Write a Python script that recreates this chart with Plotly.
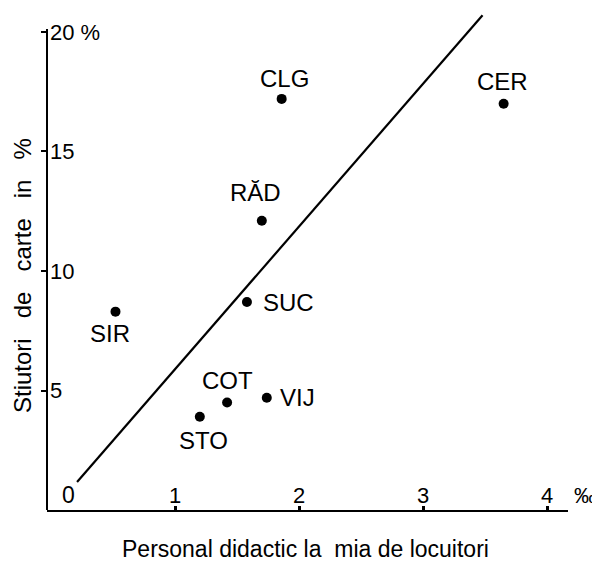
import plotly.graph_objects as go

# ---- data ----
districts = ["CLG", "CER", "RĂD", "SUC", "SIR", "COT", "VIJ", "STO"]
staff_per_mille = [1.86, 3.65, 1.70, 1.58, 0.52, 1.42, 1.74, 1.20]
literate_pct = [17.2, 17.0, 12.1, 8.7, 8.3, 4.5, 4.7, 3.9]

trend_x = [0.21, 3.48]
trend_y = [1.17, 20.7]

x_tickvals = [1, 2, 3, 4]
x_ticktext = ["1", "2", "3", "4"]
y_tickvals = [5, 10, 15, 20]
y_ticktext = ["5", "10", "15", "20 %"]

x_title = "Personal didactic la\u00a0\u00a0mia de locuitori"
y_title = "Stiutori\u00a0\u00a0 de\u00a0\u00a0 carte\u00a0\u00a0 in\u00a0\u00a0 %"

# ---- style ----
FONT = "Liberation Sans, Arial, Helvetica, sans-serif"
# label placement (pixel offsets, xanchor) for each district label
label_style = {
    "CLG": (3, 20, "center"),
    "CER": (-1, 22, "center"),
    "RĂD": (-6, 28, "center"),
    "SUC": (14, 0, "left"),
    "SIR": (-5, -22, "center"),
    "COT": (0, 22, "center"),
    "VIJ": (11, 0, "left"),
    "STO": (4, -24, "center"),
}

fig = go.Figure()

fig.add_trace(go.Scatter(
    x=trend_x, y=trend_y, mode="lines",
    line=dict(color="black", width=2.2),
    hoverinfo="skip", showlegend=False,
))

fig.add_trace(go.Scatter(
    x=staff_per_mille, y=literate_pct, mode="markers",
    marker=dict(color="black", size=10),
    text=districts, hoverinfo="text", showlegend=False,
))

annotations = []
for name, xv, yv in zip(districts, staff_per_mille, literate_pct):
    dx, dy, anchor = label_style[name]
    annotations.append(dict(
        x=xv, y=yv, xref="x", yref="y", text=name, showarrow=False,
        xshift=dx, yshift=dy, xanchor=anchor, yanchor="middle",
        font=dict(family=FONT, size=24, color="black"),
    ))

# origin "0" and per-mille unit label
annotations.append(dict(x=0, y=0, xref="paper", yref="paper", text="0",
                        showarrow=False, xshift=21, yshift=15,
                        xanchor="center", yanchor="middle",
                        font=dict(family=FONT, size=23, color="black")))
annotations.append(dict(x=1, y=0, xref="paper", yref="paper", text="‰",
                        showarrow=False, xshift=4, yshift=15,
                        xanchor="left", yanchor="middle",
                        font=dict(family=FONT, size=22, color="black")))

# axis titles
annotations.append(dict(x=0.5, y=0, xref="paper", yref="paper", text=x_title,
                        showarrow=False, xshift=-2.5, yshift=-39,
                        xanchor="center", yanchor="middle",
                        font=dict(family=FONT, size=23, color="black")))
annotations.append(dict(x=0, y=0.5, xref="paper", yref="paper", text=y_title,
                        showarrow=False, textangle=-90, xshift=-25,
                        yshift=-16, xanchor="center", yanchor="middle",
                        font=dict(family=FONT, size=24, color="black")))

shapes = [dict(type="line", xref="paper", yref="y", x0=0, x1=0, y0=0, y1=20.13,
               line=dict(color="black", width=2))]

fig.update_layout(
    width=600, height=562,
    margin=dict(l=39, r=40, t=2, b=60),
    paper_bgcolor="white", plot_bgcolor="white",
    font=dict(family=FONT, size=22, color="black"),
    annotations=annotations, shapes=shapes,
    xaxis=dict(
        range=[-0.0323, 4.169], showgrid=False, zeroline=False,
        showline=True, linecolor="black", linewidth=2,
        tickvals=x_tickvals, ticktext=x_ticktext,
        ticks="inside", ticklen=4, tickwidth=3, tickcolor="black",
        ticklabelposition="inside",
        tickfont=dict(family=FONT, size=22, color="black"),
    ),
    yaxis=dict(
        range=[0, 20.92], showgrid=False, zeroline=False, showline=False,
        tickvals=y_tickvals, ticktext=y_ticktext,
        ticks="outside", ticklen=5, tickwidth=2, tickcolor="black",
        ticklabelposition="inside",
        tickfont=dict(family=FONT, size=22, color="black"),
    ),
)

fig.write_html("out.html")
